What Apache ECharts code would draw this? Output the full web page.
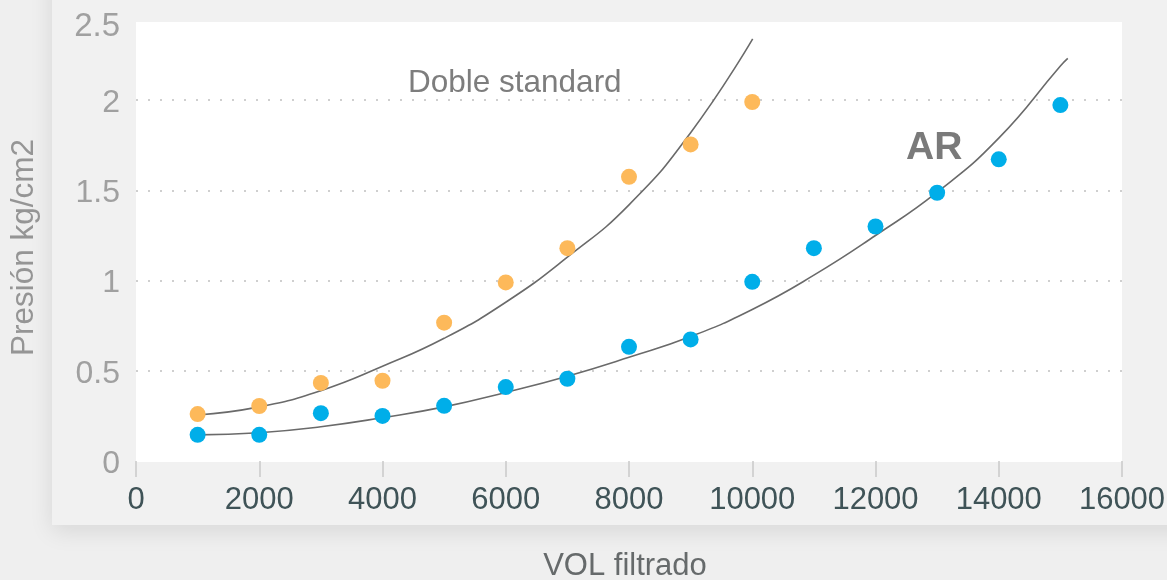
<!DOCTYPE html>
<html>
<head>
<meta charset="utf-8">
<script src="https://cdn.jsdelivr.net/npm/echarts@6/dist/echarts.min.js"></script>
<style>
html,body{margin:0;padding:0;background:#ececec;}
#chart{width:1167px;height:580px;}
</style>
</head>
<body>
<div id="chart"></div>
<script>
// ---- data ----
var xCategories = [1000,2000,3000,4000,5000,6000,7000,8000,9000,10000,11000,12000,13000,14000,15000];
var dobleValues = [0.26,0.305,0.433,0.445,0.767,0.99,1.18,1.575,1.755,1.99];
var arValues = [0.145,0.145,0.265,0.25,0.306,0.41,0.456,0.633,0.674,0.993,1.18,1.30,1.487,1.672,1.973];
// trend curves
var dobleTrendX = [1000,2000,3000,4000,5000,6000,7000,8000,9000,10007];
var dobleTrendY = [0.255,0.30,0.39,0.525,0.68,0.88,1.13,1.42,1.82,2.34];
var arTrendX = [1000,2000,3000,4000,5000,6000,7000,8000,9000,10000,11000,12000,13000,14000,15000,15120];
var arTrendY = [0.145,0.157,0.19,0.24,0.30,0.38,0.47,0.575,0.69,0.84,1.03,1.25,1.49,1.79,2.19,2.232];
var xTicks = [0,2000,4000,6000,8000,10000,12000,14000,16000];
var yTicks = [0,0.5,1,1.5,2,2.5];
var yGridValues = [0.5,1,1.5,2];
var xAxisName = 'VOL filtrado';
var yAxisName = 'Presión kg/cm2';
var labelDoble = 'Doble standard';
var labelAR = 'AR';

function pairs(xs, ys){ return ys.map(function(v,i){ return [xs[i], v]; }); }

var chart = echarts.init(document.getElementById('chart'));
var FONT = '"Liberation Sans", Arial, Helvetica, sans-serif';

var option = {
  backgroundColor: '#efefef',
  animation: false,
  grid: { left: 136, right: 45, top: 10, bottom: 119, containLabel: false, outerBoundsMode: 'none' },
  graphic: [
    { type: 'rect', z: -10, shape: { x: 52, y: -30, width: 1200, height: 555 },
      style: { fill: '#f1f1f1', shadowBlur: 22, shadowColor: 'rgba(0,0,0,0.10)', shadowOffsetY: 6 } },
    { type: 'rect', z: -5, shape: { x: 136, y: 22, width: 986, height: 440 },
      style: { fill: '#ffffff' } },
    { type: 'text', z: 5, left: 408, top: 67,
      style: { text: labelDoble, font: '31.5px ' + FONT, fill: '#7d7d7d' } },
    { type: 'text', z: 5, left: 906, top: 129,
      style: { text: labelAR, font: 'bold 39px ' + FONT, fill: '#7a7a7a' } }
  ],
  xAxis: {
    type: 'value', min: 0, max: 16000, interval: 2000,
    name: xAxisName, nameLocation: 'middle', nameGap: 90,
    nameTextStyle: { fontSize: 31, color: '#666a6b', fontFamily: FONT, padding: [0, 8, 0, 0] },
    axisLine: { show: false },
    axisTick: { show: true, length: 16, lineStyle: { color: '#c9c9c9', width: 1.5 } },
    axisLabel: { fontSize: 31, color: '#3f5357', margin: 24, fontFamily: FONT,
      formatter: function(v){ return xTicks.indexOf(v) >= 0 ? String(v) : ''; } },
    splitLine: { show: false }
  },
  yAxis: {
    type: 'value', min: 0, max: 2.5, interval: 0.5,
    name: yAxisName, nameLocation: 'middle', nameGap: 96,
    nameTextStyle: { fontSize: 31.5, color: '#959595', fontFamily: FONT, padding: [0, 24, 0, 0] },
    axisLine: { show: false }, axisTick: { show: false },
    axisLabel: { fontSize: 32, color: '#a0a0a0', margin: 16, fontFamily: FONT,
      formatter: function(v){
        if (yTicks.indexOf(v) < 0) return '';
        return v === 2.5 ? '{top|' + v + '}' : '{n|' + v + '}';
      },
      rich: {
        top: { fontSize: 33, color: '#a0a0a0', fontFamily: FONT, padding: [34,0,0,0] },
        n: { fontSize: 32, color: '#a0a0a0', fontFamily: FONT, padding: [6,0,0,0] }
      }
    },
    splitLine: { show: false }
  },
  series: [
    {
      type: 'line', name: 'grid', data: [], silent: true, z: 1,
      markLine: {
        z: 1, silent: true, symbol: ['none','none'], label: { show: false },
        lineStyle: { type: [2, 10], color: '#cfcfcf', width: 2 },
        data: yGridValues.map(function(v){ return { yAxis: v }; })
      }
    },
    {
      type: 'line', name: 'Doble standard trend', data: pairs(dobleTrendX, dobleTrendY),
      smooth: true, showSymbol: false, symbol: 'none', z: 3,
      lineStyle: { color: '#6a6a6a', width: 1.6 }
    },
    {
      type: 'line', name: 'AR trend', data: pairs(arTrendX, arTrendY),
      smooth: true, showSymbol: false, symbol: 'none', z: 3,
      lineStyle: { color: '#6a6a6a', width: 1.6 }
    },
    {
      type: 'scatter', name: 'Doble standard', z: 6,
      data: pairs(xCategories, dobleValues), symbolSize: 16,
      itemStyle: { color: '#fdb95a', opacity: 1 }
    },
    {
      type: 'scatter', name: 'AR', z: 6,
      data: pairs(xCategories, arValues), symbolSize: 16,
      itemStyle: { color: '#00aee9', opacity: 1 }
    }
  ]
};
chart.setOption(option);
</script>
</body>
</html>
